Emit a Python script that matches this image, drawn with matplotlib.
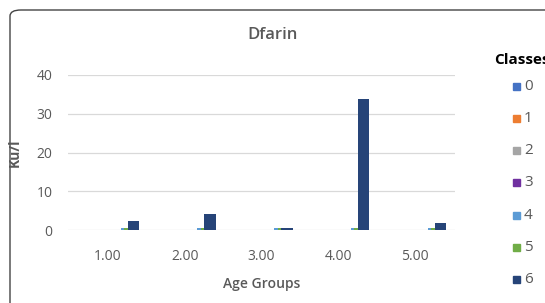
import matplotlib
matplotlib.use("Agg")
import matplotlib.pyplot as plt
from matplotlib.patches import FancyBboxPatch
import numpy as np

plt.rcParams['font.family'] = ['Open Sans', 'DejaVu Sans']

# data
groups = ['1.00', '2.00', '3.00', '4.00', '5.00']
classes = ['0', '1', '2', '3', '4', '5', '6']
values = [
    [0.1, 0.1, 0.1, 0.1, 0.1],      # class 0
    [0.1, 0.1, 0.1, 0.1, 0.1],      # class 1
    [0.1, 0.1, 0.1, 0.1, 0.1],      # class 2
    [0.1, 0.1, 0.1, 0.1, 0.1],      # class 3
    [0.4, 0.4, 0.4, 0.4, 0.4],      # class 4
    [0.4, 0.4, 0.4, 0.4, 0.4],      # class 5
    [2.3, 4.1, 0.5, 33.8, 1.8],     # class 6
]
colors = ['#4472C4', '#ED7D31', '#A5A5A5', '#7030A0', '#5B9BD5', '#70AD47', '#264478']

W, H = 545, 303
fig = plt.figure(figsize=(W / 100, H / 100), dpi=100)

# chart frame (runs off the right and bottom edges)
frame = FancyBboxPatch((10 / W, -40 / H), 600 / W, (H - 10 + 40) / H,
                       boxstyle="round,pad=0,rounding_size=0.02",
                       transform=fig.transFigure, fc='white', ec='#444444',
                       lw=1.0, zorder=-1)
fig.patches.append(frame)

ax = fig.add_axes([68 / W, 1 - 230 / H, 387 / W, 155 / H])
x = np.arange(len(groups))
for i, c in enumerate(classes):
    ax.bar(x + 0.06 + i * 0.045, values[i], width=0.15,
           color=colors[i], edgecolor='none', zorder=3)

ax.set_xlim(-0.52, 4.52)
ax.set_ylim(0, 40)
ax.set_yticks([0, 10, 20, 30, 40])
ax.set_xticks(x)
ax.set_xticklabels(groups)
ax.grid(axis='y', color='#D9D9D9', lw=0.9, zorder=0)
for s in ax.spines.values():
    s.set_visible(False)
ax.tick_params(length=0, colors='#595959', labelsize=10)
ax.tick_params(axis='x', pad=14)
ax.tick_params(axis='y', pad=11)
ax.set_facecolor('none')

ax.set_xlabel('Age Groups', color='#595959', fontsize=10, fontweight='semibold', labelpad=9)
ax.set_ylabel('Ku/l', color='#595959', fontsize=10, fontweight='bold')
ax.yaxis.set_label_coords(-46 / 387, 0.5)
fig.text(273 / W, 1 - 35 / H, 'Dfarin', ha='center', va='center',
         color='#595959', fontsize=12, fontweight='semibold')

# legend (title runs off the right edge, as in the original)
fig.text(494 / W, 1 - 60 / H, 'Classes', ha='left', va='center',
         color='black', fontsize=11, fontweight='bold')
for i, c in enumerate(classes):
    yy = 1 - (86 + i * 32.3) / H
    fig.patches.append(plt.Rectangle((513 / W, yy - 3.5 / H), 7 / W, 7 / H,
                                     transform=fig.transFigure, color=colors[i]))
    fig.text(524 / W, yy, c, ha='left', va='center', color='#595959', fontsize=11)

fig.savefig('out.png', dpi=100)
